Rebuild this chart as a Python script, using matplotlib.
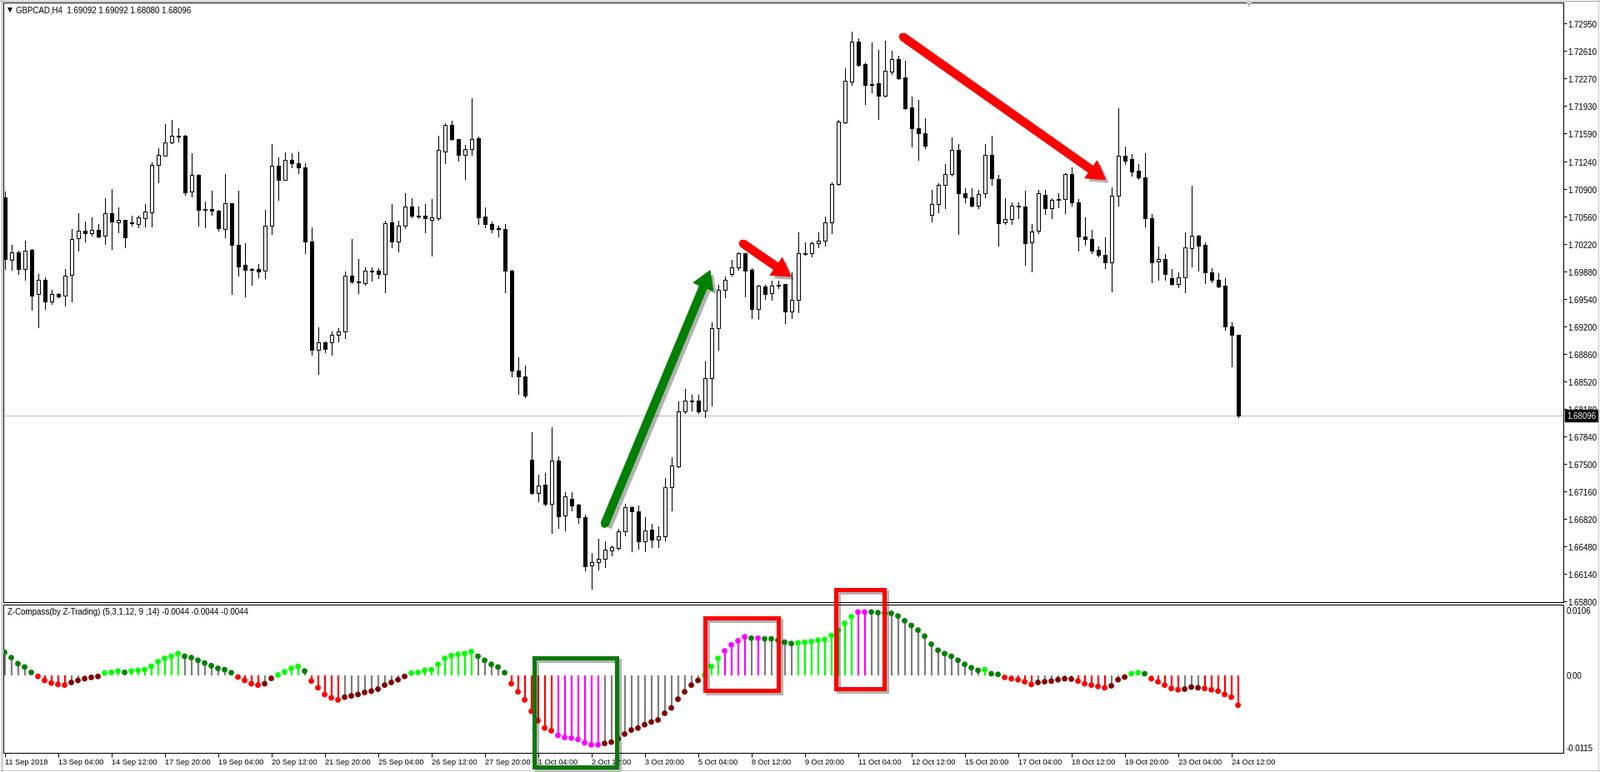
"""

	plot.py: 

		GBPCAD H4 candles with the Z-Compass indicator pane underneath (MT4 screenshot look). 

"""

import numpy as np; 
import matplotlib; 
matplotlib.use("Agg"); 
import matplotlib.pyplot as plt; 
from matplotlib.patches import Rectangle, FancyArrowPatch, ArrowStyle; 
from matplotlib.lines import Line2D; 
import matplotlib.patheffects as pe; 

plt.rcParams['font.family'] = ['Liberation Sans', 'DejaVu Sans']; 


## Price data (H4 bars, 11 Sep 2018 20:00 -> 24 Oct 2018 16:00): 
opens = [1.7080, 1.7002, 1.7012, 1.6991, 1.7015, 1.6960, 1.6978, 1.6951, 1.6960, 1.6958, 
	1.6984, 1.7029, 1.7039, 1.7035, 1.7040, 1.7032, 1.7060, 1.7049, 1.7052, 1.7049, 
	1.7047, 1.7054, 1.7061, 1.7120, 1.7131, 1.7148, 1.7156, 1.7156, 1.7087, 1.7108, 
	1.7065, 1.7065, 1.7063, 1.7041, 1.7073, 1.7021, 1.6996, 1.6991, 1.6991, 1.6989, 
	1.7045, 1.7119, 1.7102, 1.7126, 1.7122, 1.7117, 1.7025, 1.6891, 1.6900, 1.6900, 
	1.6910, 1.6914, 1.6983, 1.6976, 1.6974, 1.6989, 1.6989, 1.6985, 1.7049, 1.7025, 
	1.7045, 1.7068, 1.7057, 1.7057, 1.7052, 1.7054, 1.7137, 1.7170, 1.7152, 1.7132, 
	1.7140, 1.7153, 1.7056, 1.7047, 1.7042, 1.7041, 1.6989, 1.6865, 1.6858, 1.6755, 
	1.6714, 1.6724, 1.6700, 1.6754, 1.6686, 1.6706, 1.6699, 1.6684, 1.6624, 1.6628, 
	1.6632, 1.6642, 1.6646, 1.6666, 1.6696, 1.6691, 1.6654, 1.6668, 1.6656, 1.6660, 
	1.6721, 1.6747, 1.6815, 1.6827, 1.6828, 1.6816, 1.6856, 1.6918, 1.6965, 1.6985, 
	1.6993, 1.7011, 1.6990, 1.6942, 1.6969, 1.6961, 1.6970, 1.6973, 1.6939, 1.6953, 
	1.7011, 1.7011, 1.7023, 1.7026, 1.7049, 1.7096, 1.7173, 1.7223, 1.7273, 1.7245, 
	1.7220, 1.7221, 1.7206, 1.7236, 1.7251, 1.7228, 1.7191, 1.7165, 1.7159, 1.7058, 
	1.7072, 1.7095, 1.7109, 1.7139, 1.7085, 1.7080, 1.7069, 1.7085, 1.7132, 1.7103, 
	1.7049, 1.7053, 1.7070, 1.7068, 1.7024, 1.7039, 1.7083, 1.7066, 1.7078, 1.7078, 
	1.7109, 1.7074, 1.7031, 1.7028, 1.7015, 1.7009, 1.6999, 1.7082, 1.7131, 1.7127, 
	1.7113, 1.7105, 1.7054, 1.7000, 1.7004, 1.6980, 1.6973, 1.6981, 1.7017, 1.7032, 
	1.7021, 1.6987, 1.6978, 1.6970, 1.6920, 1.69092]; 

highs = [1.7087, 1.7021, 1.7014, 1.7026, 1.7016, 1.6985, 1.6981, 1.6965, 1.6961, 1.6991, 
	1.7041, 1.7060, 1.7050, 1.7055, 1.7047, 1.7079, 1.7090, 1.7067, 1.7052, 1.7057, 
	1.7057, 1.7072, 1.7123, 1.7141, 1.7171, 1.7176, 1.7165, 1.7157, 1.7134, 1.7109, 
	1.7075, 1.7088, 1.7064, 1.7109, 1.7073, 1.7088, 1.7023, 1.6992, 1.6997, 1.7064, 
	1.7146, 1.7129, 1.7136, 1.7135, 1.7137, 1.7122, 1.7043, 1.6919, 1.6901, 1.6914, 
	1.6918, 1.6988, 1.7028, 1.7003, 1.6993, 1.6993, 1.6992, 1.7051, 1.7072, 1.7051, 
	1.7085, 1.7079, 1.7068, 1.7072, 1.7078, 1.7156, 1.7172, 1.7175, 1.7152, 1.7145, 
	1.7203, 1.7155, 1.7067, 1.7050, 1.7045, 1.7047, 1.6990, 1.6882, 1.6871, 1.6789, 
	1.6736, 1.6738, 1.6795, 1.6759, 1.6715, 1.6715, 1.6700, 1.6687, 1.6639, 1.6657, 
	1.6654, 1.6649, 1.6669, 1.6700, 1.6697, 1.6698, 1.6684, 1.6675, 1.6672, 1.6732, 
	1.6758, 1.6827, 1.6843, 1.6835, 1.6835, 1.6877, 1.6925, 1.6971, 1.6982, 1.7002, 
	1.7012, 1.7011, 1.6992, 1.6972, 1.6971, 1.6977, 1.6977, 1.6973, 1.6987, 1.7037, 
	1.7024, 1.7025, 1.7037, 1.7056, 1.7098, 1.7176, 1.7240, 1.7285, 1.7277, 1.7247, 
	1.7272, 1.7262, 1.7274, 1.7261, 1.7255, 1.7249, 1.7205, 1.7200, 1.7178, 1.7089, 
	1.7097, 1.7121, 1.7154, 1.7146, 1.7091, 1.7091, 1.7089, 1.7146, 1.7156, 1.7108, 
	1.7079, 1.7074, 1.7074, 1.7088, 1.7047, 1.7089, 1.7089, 1.7079, 1.7085, 1.7110, 
	1.7117, 1.7078, 1.7055, 1.7040, 1.7019, 1.7030, 1.7092, 1.7190, 1.7143, 1.7133, 
	1.7121, 1.7134, 1.7059, 1.7019, 1.7010, 1.6991, 1.6987, 1.7036, 1.7094, 1.7033, 
	1.7024, 1.6992, 1.6986, 1.6980, 1.6925, 1.69092]; 

lows = [1.6991, 1.6990, 1.6985, 1.6978, 1.6941, 1.6919, 1.6942, 1.6948, 1.6956, 1.6946, 
	1.6951, 1.7014, 1.7025, 1.7032, 1.7030, 1.7022, 1.7016, 1.7036, 1.7018, 1.7045, 
	1.7043, 1.7044, 1.7044, 1.7098, 1.7131, 1.7147, 1.7149, 1.7083, 1.7081, 1.7045, 
	1.7043, 1.7058, 1.7039, 1.7030, 1.6960, 1.6983, 1.6957, 1.6972, 1.6981, 1.6980, 
	1.7034, 1.7077, 1.7101, 1.7117, 1.7110, 1.7011, 1.6885, 1.6861, 1.6888, 1.6885, 
	1.6901, 1.6905, 1.6974, 1.6961, 1.6972, 1.6977, 1.6980, 1.6962, 1.7018, 1.7013, 
	1.7042, 1.7055, 1.7054, 1.7037, 1.7008, 1.7052, 1.7122, 1.7151, 1.7125, 1.7103, 
	1.7132, 1.7047, 1.7043, 1.7037, 1.7031, 1.6962, 1.6858, 1.6836, 1.6832, 1.6713, 
	1.6703, 1.6698, 1.6664, 1.6670, 1.6667, 1.6692, 1.6677, 1.6618, 1.6595, 1.6619, 
	1.6622, 1.6636, 1.6643, 1.6661, 1.6641, 1.6645, 1.6641, 1.6647, 1.6647, 1.6655, 
	1.6692, 1.6746, 1.6813, 1.6816, 1.6813, 1.6808, 1.6822, 1.6891, 1.6956, 1.6983, 
	1.6990, 1.6957, 1.6930, 1.6929, 1.6954, 1.6953, 1.6967, 1.6924, 1.6930, 1.6937, 
	1.7009, 1.7007, 1.7018, 1.7020, 1.7035, 1.7095, 1.7172, 1.7219, 1.7243, 1.7195, 
	1.7210, 1.7177, 1.7205, 1.7232, 1.7226, 1.7189, 1.7143, 1.7126, 1.7141, 1.7050, 
	1.7061, 1.7066, 1.7107, 1.7034, 1.7074, 1.7068, 1.7066, 1.7080, 1.7095, 1.7020, 
	1.7047, 1.7047, 1.7054, 1.6996, 1.6988, 1.7035, 1.7059, 1.7054, 1.7067, 1.7060, 
	1.7069, 1.7014, 1.7021, 1.7011, 1.7007, 1.6992, 1.6963, 1.7069, 1.7121, 1.7107, 
	1.7103, 1.7044, 1.6975, 1.6978, 1.6978, 1.6972, 1.6968, 1.6962, 1.6994, 1.6989, 
	1.6974, 1.6975, 1.6968, 1.6916, 1.6870, 1.68080]; 

closes = [1.7004, 1.7012, 1.6991, 1.7014, 1.6958, 1.6978, 1.6951, 1.6960, 1.6957, 1.6983, 
	1.7028, 1.7039, 1.7035, 1.7040, 1.7031, 1.7060, 1.7050, 1.7052, 1.7030, 1.7048, 
	1.7055, 1.7062, 1.7120, 1.7132, 1.7148, 1.7156, 1.7155, 1.7086, 1.7108, 1.7064, 
	1.7064, 1.7063, 1.7042, 1.7073, 1.7021, 1.6994, 1.6990, 1.6990, 1.6988, 1.7045, 
	1.7119, 1.7102, 1.7126, 1.7122, 1.7117, 1.7025, 1.6891, 1.6900, 1.6892, 1.6910, 
	1.6914, 1.6983, 1.6976, 1.6975, 1.6989, 1.6988, 1.6985, 1.7048, 1.7025, 1.7045, 
	1.7068, 1.7057, 1.7056, 1.7054, 1.7055, 1.7139, 1.7170, 1.7152, 1.7132, 1.7140, 
	1.7152, 1.7055, 1.7047, 1.7041, 1.7041, 1.6989, 1.6865, 1.6858, 1.6834, 1.6714, 
	1.6723, 1.6700, 1.6754, 1.6685, 1.6709, 1.6698, 1.6684, 1.6623, 1.6628, 1.6632, 
	1.6643, 1.6647, 1.6666, 1.6696, 1.6691, 1.6654, 1.6667, 1.6656, 1.6660, 1.6721, 
	1.6748, 1.6815, 1.6828, 1.6828, 1.6815, 1.6856, 1.6918, 1.6965, 1.6978, 1.6993, 
	1.7011, 1.6989, 1.6942, 1.6970, 1.6960, 1.6970, 1.6972, 1.6939, 1.6953, 1.7011, 
	1.7010, 1.7023, 1.7026, 1.7049, 1.7096, 1.7174, 1.7224, 1.7273, 1.7244, 1.7219, 
	1.7219, 1.7206, 1.7237, 1.7251, 1.7227, 1.7190, 1.7165, 1.7159, 1.7144, 1.7072, 
	1.7095, 1.7109, 1.7139, 1.7085, 1.7080, 1.7069, 1.7084, 1.7132, 1.7104, 1.7048, 
	1.7053, 1.7070, 1.7068, 1.7023, 1.7038, 1.7085, 1.7066, 1.7077, 1.7077, 1.7109, 
	1.7074, 1.7031, 1.7028, 1.7014, 1.7009, 1.6999, 1.7082, 1.7131, 1.7125, 1.7112, 
	1.7105, 1.7054, 1.6999, 1.7004, 1.6985, 1.6973, 1.6981, 1.7018, 1.7032, 1.7020, 
	1.6987, 1.6978, 1.6969, 1.6920, 1.6910, 1.68096]; 

## Z-Compass values and colour state per bar: 
#  L = rising (lime), G = positive fading (grey / dark green), R = falling (red), 
#  D = negative fading (grey / maroon), M = extreme (magenta). 
z_values = [0.0035, 0.0027, 0.0018, 0.0013, 0.0005, -0.0001, -0.0007, -0.0011, -0.0013, -0.0014, 
	-0.0010, -0.0007, -0.00045, -0.00025, -0.0001, 0.0004, 0.0005, 0.0007, 0.0005, 0.0007, 
	0.0008, 0.0009, 0.0014, 0.0021, 0.0026, 0.0029, 0.0033, 0.0029, 0.0027, 0.0023, 
	0.0019, 0.0015, 0.0011, 0.0009, 0.00045, -0.0002, -0.0007, -0.0012, -0.0014, -0.0012, 
	-0.0004, 0.0001, 0.0006, 0.0011, 0.0014, 0.0007, -0.0008, -0.0018, -0.0028, -0.0033, 
	-0.0036, -0.0032, -0.0030, -0.0028, -0.0025, -0.0023, -0.0020, -0.0014, -0.0010, -0.0006, 
	-0.0001, 0.0004, 0.0005, 0.0008, 0.0009, 0.0017, 0.0026, 0.0030, 0.0032, 0.0033, 
	0.0036, 0.0029, 0.0023, 0.0017, 0.0013, 0.00045, -0.0012, -0.0024, -0.0036, -0.0053, 
	-0.0067, -0.0078, -0.0082, -0.0089, -0.0092, -0.0093, -0.0095, -0.0100, -0.0103, -0.0103, 
	-0.0101, -0.0099, -0.0094, -0.0087, -0.0081, -0.0078, -0.0073, -0.0069, -0.0066, -0.0056, 
	-0.0048, -0.0035, -0.0024, -0.0014, -0.0007, 0.0001, 0.0014, 0.0026, 0.0037, 0.0046, 
	0.0052, 0.0058, 0.0056, 0.0056, 0.0055, 0.0055, 0.0053, 0.0050, 0.0048, 0.0049, 
	0.0050, 0.0051, 0.0053, 0.0054, 0.0060, 0.0068, 0.0078, 0.0088, 0.0095, 0.0095, 
	0.0095, 0.0094, 0.0093, 0.0093, 0.0089, 0.0082, 0.0075, 0.0068, 0.0059, 0.0047, 
	0.0038, 0.0033, 0.0029, 0.0023, 0.0017, 0.0012, 0.0008, 0.0009, 0.0003, 0.0002, 
	-0.00025, -0.00045, -0.0006, -0.0009, -0.0013, -0.0010, -0.0009, -0.0008, -0.0006, -0.00045, 
	-0.0005, -0.0008, -0.0012, -0.0014, -0.0016, -0.0018, -0.0015, -0.0006, -0.0002, 0.0003, 
	0.00045, 0.0003, -0.00045, -0.0009, -0.0014, -0.0019, -0.0021, -0.0020, -0.0017, -0.0018, 
	-0.0019, -0.0021, -0.0023, -0.0028, -0.0032, -0.0044]; 

z_state = ("GGGGG" "RRRRR" "DDDDD" "LLL" "G" "LLLLLLLL" "GGGGGGGG" "RRRR" "DD" "LLLL" "G" 
	"RRRRR" "DDDDDDDDDD" "LLLLLLLLLL" "GGGGG" "RRRRRRR" "MMMMMMM" "DDDDDDDDDDDDDDD" "LLL" 
	"MMMM" "G" "M" "GGGGG" "LLLLLLLLL" "MM" "GGGGGGGGGGGGGGGGG" "L" "GG" "RRRRR" "DDDDDD" 
	"RRRRR" "DDD" "LL" "G" "RRRRR" "DDD" "RRRRRR"); 

## Axis texts: 
price_labels = ['1.72950', '1.72610', '1.72270', '1.71930', '1.71590', '1.71240', '1.70900', 
	'1.70560', '1.70220', '1.69880', '1.69540', '1.69200', '1.68860', '1.68520', '1.68180', 
	'1.67840', '1.67500', '1.67160', '1.66820', '1.66480', '1.66140', '1.65800']; 
time_labels = ['11 Sep 2018', '13 Sep 04:00', '14 Sep 12:00', '17 Sep 20:00', '19 Sep 04:00', 
	'20 Sep 12:00', '21 Sep 20:00', '25 Sep 04:00', '26 Sep 12:00', '27 Sep 20:00', 
	'1 Oct 04:00', '2 Oct 12:00', '3 Oct 20:00', '5 Oct 04:00', '8 Oct 12:00', '9 Oct 20:00', 
	'11 Oct 04:00', '12 Oct 12:00', '15 Oct 20:00', '17 Oct 04:00', '18 Oct 12:00', 
	'19 Oct 20:00', '23 Oct 04:00', '24 Oct 12:00']; 
z_labels = ['0.0106', '0.00', '-0.0115']; 
z_label_values = [0.0106, 0.0, -0.0115]; 

## Hand-drawn annotations (bar index, price) and boxes (bar index, indicator value): 
arrows = [((90.0, 1.6675), (105.8, 1.6989), '#008000'), 
	((110.7, 1.7023), (117.9, 1.6982), '#ff0000'), 
	((134.7, 1.7279), (165.1, 1.7102), '#ff0000')]; 
boxes = [((79.4, 91.8), (-0.0136, 0.0026), '#0a780a'), 
	((105.1, 116.05), (-0.0022, 0.0086), '#ff0000'), 
	((124.7, 131.95), (-0.0020, 0.0128), '#ff0000')]; 


### Figure layout (pixels of the 1920x928 screenshot): 
W = 1920.; 
H = 928.; 
fig = plt.figure(figsize=(W/100., H/100.), dpi=100); 
fig.patch.set_facecolor('white'); 

def pxBox(x0, y0, x1, y1): 
	return [x0/W, 1.-y1/H, (x1-x0)/W, (y1-y0)/H]; 

ax = fig.add_axes(pxBox(4, 4, 1876, 724)); 
axZ = fig.add_axes(pxBox(4, 727, 1876, 905)); 

x = np.arange(len(opens)); 
o = np.array(opens); 
hi = np.array(highs); 
lo = np.array(lows); 
c = np.array(closes); 
bull = c > o; 

xLim = (-0.19, 233.8); 	# 8 px per bar, first bar centred at x=5.5 px. 
onePx = 0.72; 			# 1 pixel in points at dpi 100. 

## Candles: 
ax.axhline(c[-1], color='#c0c0c0', linewidth=onePx, zorder=1); 
ax.vlines(x, lo, hi, colors='black', linewidth=onePx, zorder=2, antialiased=False); 
ax.bar(x, np.maximum(np.abs(c-o), 0.00002), bottom=np.minimum(o, c), width=0.5, 
	color=np.where(bull, 'white', 'black'), edgecolor='black', linewidth=onePx, zorder=3, 
	antialiased=False); 
ax.set_xlim(xLim); 
ax.set_ylim(1.65785, 1.73212); 
ax.set_xticks([]); 
ax.yaxis.tick_right(); 
ax.set_yticks([float(t) for t in price_labels]); 
ax.set_yticklabels(price_labels); 
ax.tick_params(axis='y', direction='out', length=2.6, width=onePx, pad=1.2, labelsize=7); 

# Current price tag: 
ax.annotate('%.5f' % closes[-1], xy=(1, closes[-1]), xycoords=('axes fraction', 'data'), 
	xytext=(4, 0), textcoords='offset pixels', color='white', fontsize=7, va='center', ha='left', 
	bbox=dict(boxstyle='square,pad=0.25', fc='black', ec='black'), annotation_clip=False, zorder=6); 

## Indicator pane: 
zCols = {'L': ('#00ff00', '#00ff00'), 'G': ('#808080', '#008000'), 'R': ('#ff0000', '#ff0000'), 
	'D': ('#808080', '#800000'), 'M': ('#ff00ff', '#ff00ff')}; 
lineCols = [zCols[s][0] for s in z_state]; 
dotCols = [zCols[s][1] for s in z_state]; 
axZ.vlines(x, 0, z_values, colors=lineCols, linewidth=1.6, zorder=2); 
axZ.scatter(x, z_values, s=24, c=dotCols, linewidths=0, zorder=3); 
axZ.set_xlim(xLim); 
axZ.set_ylim(-0.0115, 0.0106); 
axZ.set_yticks([]); 
for v, s, va, dy in zip(z_label_values, z_labels, ['top', 'center', 'bottom'], [-2, 0, 1]): 
	axZ.annotate(s, xy=(1, v), xycoords=('axes fraction', 'data'), xytext=(4, dy), 
		textcoords='offset pixels', fontsize=7, va=va, ha='left', annotation_clip=False); 
axZ.set_xticks(np.arange(0, 8*len(time_labels), 8)); 
axZ.set_xticklabels(time_labels, ha='left'); 
axZ.tick_params(axis='x', direction='out', length=3.5, width=onePx, pad=0.8, labelsize=6.6); 

for a in (ax, axZ): 
	for sp in a.spines.values(): 
		sp.set_linewidth(onePx); 
		sp.set_color('black'); 

## Arrows: 
shadowP = [pe.SimplePatchShadow(offset=(3, -3), shadow_rgbFace='black', alpha=0.3), pe.Normal()]; 
shadowL = [pe.SimpleLineShadow(offset=(3, -3), shadow_color='black', alpha=0.3), pe.Normal()]; 
for tail, tip, col in arrows: 
	arr = FancyArrowPatch(tail, tip, arrowstyle=ArrowStyle('simple', head_length=15, head_width=18, tail_width=6.5), 
		mutation_scale=1, color=col, shrinkA=0, shrinkB=0, zorder=8, path_effects=shadowP); 
	ax.add_patch(arr); 
	ax.plot([tail[0]], [tail[1]], marker='o', ms=6.3, mew=0, color=col, zorder=8, path_effects=shadowL); 

## Boxes round the indicator zones: 
for (x0, x1), (y0, y1), col in boxes: 
	r = Rectangle((x0, y0), x1-x0, y1-y0, fill=False, edgecolor=col, linewidth=3.6, joinstyle='miter', 
		clip_on=False, zorder=9, 
		path_effects=[pe.SimpleLineShadow(offset=(2, -2), shadow_color='black', alpha=0.3), pe.Normal()]); 
	axZ.add_patch(r); 

## Window texts and decorations: 
fig.text(19/W, 1-12.7/H, 'GBPCAD,H4  1.69092 1.69092 1.68080 1.68096', fontsize=7, va='center', ha='left'); 
fig.add_artist(Line2D([12/W], [1-12.5/H], marker='v', ms=4.5, mew=0, color='black', transform=fig.transFigure)); 
fig.text(9/W, 1-735/H, 'Z-Compass(by Z-Trading) (5,3,1,12, 9 ,14) -0.0044 -0.0044 -0.0044', 
	fontsize=7, va='center', ha='left'); 
fig.add_artist(Line2D([1499/W], [1-7/H], marker='v', ms=5, mew=0, color='#b8b8b8', transform=fig.transFigure)); 
grey = '#a0a0a0'; 
fig.add_artist(Line2D([0, 1], [1-1.5/H, 1-1.5/H], color=grey, lw=onePx, transform=fig.transFigure)); 
fig.add_artist(Line2D([1.5/W, 1.5/W], [0, 1], color=grey, lw=onePx, transform=fig.transFigure)); 
fig.add_artist(Line2D([0, 1], [1-925.5/H, 1-925.5/H], color='#c8c8c8', lw=onePx, transform=fig.transFigure)); 
fig.add_artist(Line2D([1917.5/W, 1917.5/W], [0, 1], color='#c8c8c8', lw=onePx, transform=fig.transFigure)); 

fig.savefig('out.png', dpi=100);
